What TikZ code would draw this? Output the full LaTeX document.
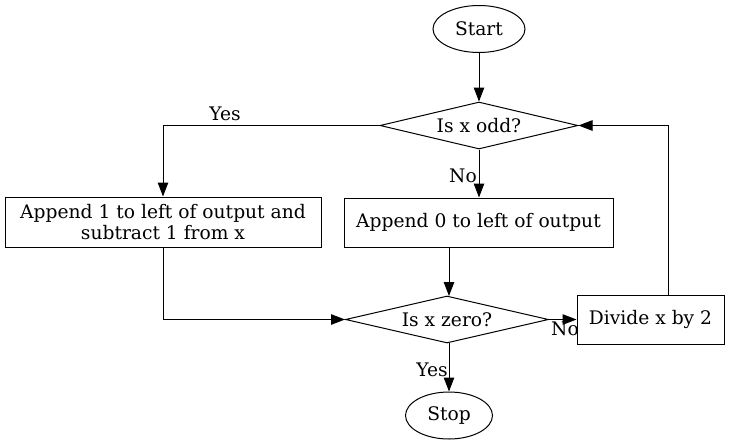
\documentclass[tikz,border=0pt]{standalone}
\usepackage{fontspec}
\setmainfont{DejaVu Serif}
\usetikzlibrary{shapes.geometric,arrows.meta}
\begin{document}
\begin{tikzpicture}[x=1pt,y=-1pt,
  every node/.style={font=\fontsize{18.67}{21}\selectfont},
  oval/.style={ellipse,draw,line width=1pt,inner sep=0pt},
  dia/.style={diamond,aspect=4.2,draw,line width=1pt,inner sep=0pt},
  boxx/.style={rectangle,draw,line width=1pt,inner sep=0pt,align=center},
  lbl/.style={inner sep=0pt},
  conn/.style={line width=1pt,-{Triangle[length=14pt,width=10.5pt]}}]
\useasboundingbox (0,0) rectangle (729,445);
\node[oval,minimum width=92,minimum height=47] (start) at (479,29) {Start};
\node[dia,minimum width=198,minimum height=47] (odd) at (479,125.5) {Is x odd?};
\node[boxx,minimum width=316,minimum height=50] (b1) at (163,222) {Append 1 to left of output and\\subtract 1 from x};
\node[boxx,minimum width=269,minimum height=49] (b2) at (478.5,222.5) {Append 0 to left of output};
\node[dia,minimum width=203,minimum height=47] (zero) at (447,319.5) {Is x zero?};
\node[boxx,minimum width=147,minimum height=49] (div) at (650.5,319.5) {Divide x by 2};
\node[oval,minimum width=87,minimum height=47] (stop) at (449,415.5) {Stop};
\draw[conn] (start) -- (odd);
\draw[conn] (odd.west) -| (b1.north);
\node[lbl] (ly1) at (225,114) {Yes};
\draw[conn] (odd.south) -- (b2.north -| odd.south);
\node[lbl] (ln1) at (463,176) {No};
\draw[conn] (b1.south) |- (zero.west);
\coordinate (zt) at (449,296);
\draw[conn] (b2.south -| zt) -- (zt);
\draw[conn] (zero.east) -- (div.west);
\node[lbl] (ln2) at (565,329) {No};
\draw[conn] ([xshift=18]div.north) |- (odd.east);
\coordinate (zb) at (449,343);
\draw[conn] (zb) -- (stop.north);
\node[lbl] (ly2) at (432,370) {Yes};
\end{tikzpicture}
\end{document}
